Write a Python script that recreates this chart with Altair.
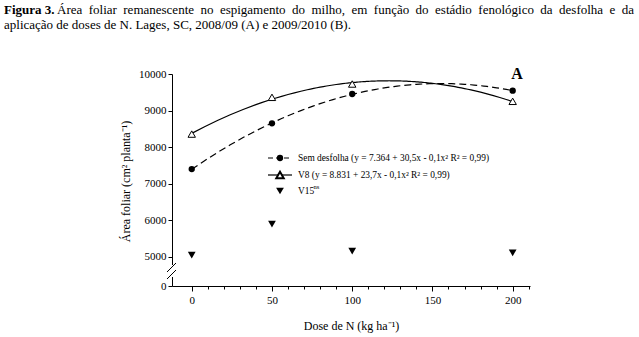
import altair as alt
import pandas as pd

# ---- data ----
doses = [0, 50, 100, 200]
sem_desfolha = [7397, 8649, 9452, 9543]
v8 = [8356, 9361, 9726, 9252]
v15 = [5041, 5890, 5151, 5104]

x_ticks = [0, 10, 20, 30, 40, 50, 60, 70, 80, 90, 100, 110, 120, 130, 140, 150,
           160, 170, 180, 190, 200, 210]
y_ticks = [0, 5000, 6000, 7000, 8000, 9000, 10000]

legend_labels = [
    "Sem desfolha (y = 7.364 + 30,5x - 0,1x²  R² = 0,99)",
    "V8 (y = 8.831 + 23,7x - 0,1x²  R² = 0,99)",
    "V15",
]
caption_bold = "Figura 3."
caption_l1 = "Área foliar remanescente no espigamento do milho, em função do estádio fenológico da desfolha e da"
caption_l2 = "aplicação de doses de N. Lages, SC, 2008/09 (A) e 2009/2010 (B)."

SERIF = "Liberation Serif"
W, H = 358, 212
OX, OY = 172, 74  # plot origin in page pixels

df = pd.DataFrame({
    "dose": doses * 3,
    "value": sem_desfolha + v8 + v15,
    "serie": ["Sem desfolha"] * 4 + ["V8"] * 4 + ["V15"] * 4,
})

xscale = alt.Scale(domain=[-12.3, 210.8], nice=False, zero=False)
yscale = alt.Scale(domain=[0, 5000, 10000], range=[H, 182.7, 0], nice=False, zero=False)

X = alt.X("dose:Q", scale=xscale, axis=alt.Axis(
    values=x_ticks, title="Dose de N (kg ha⁻¹)", grid=False,
    tickSize={"condition": {"test": "datum.value % 50 === 0", "value": 5}, "value": 3},
    labelExpr="datum.value % 50 === 0 ? datum.label : ''", labelOverlap=False,
    labelFont=SERIF, labelFontSize=11, labelColor="black", labelPadding=3,
    titleFont=SERIF, titleFontSize=12, titleFontWeight="normal", titleColor="black",
    titleY=39, titleBaseline="middle",
    domainColor="black", tickColor="black", labelFlush=False))
Y = alt.Y("value:Q", scale=yscale, axis=alt.Axis(
    values=y_ticks, title="Área foliar (cm² planta⁻¹)", grid=False, tickSize=4,
    format="d", labelOverlap=False,
    labelFont=SERIF, labelFontSize=11, labelColor="black", labelPadding=2,
    titleFont=SERIF, titleFontSize=12, titleFontWeight="normal", titleColor="black",
    titleX=-47, titleY=107, titleBaseline="middle",
    domainColor="black", tickColor="black", labelFlush=False))

base = alt.Chart(df)

fit_sem = base.transform_filter(alt.datum.serie == "Sem desfolha").transform_regression(
    "dose", "value", method="poly", order=2).mark_line(
    color="black", strokeWidth=1.2, strokeDash=[7, 4]).encode(x=X, y=Y)
fit_v8 = base.transform_filter(alt.datum.serie == "V8").transform_regression(
    "dose", "value", method="poly", order=2).mark_line(
    color="black", strokeWidth=1.2).encode(x=X, y=Y)

pts_sem = base.transform_filter(alt.datum.serie == "Sem desfolha").mark_point(
    shape="circle", filled=True, color="black", size=40, opacity=1).encode(x=X, y=Y)
pts_v8 = base.transform_filter(alt.datum.serie == "V8").mark_point(
    shape="triangle-up", filled=True, fill="white", stroke="black", strokeWidth=1, size=55, opacity=1).encode(
    x=X, y=Y)
pts_v15 = base.transform_filter(alt.datum.serie == "V15").mark_point(
    shape="triangle-down", filled=True, color="black", size=60, opacity=1).encode(x=X, y=Y)

one = pd.DataFrame({"k": [0]})
oc = alt.Chart(one)

# axis break
brk_white = oc.mark_rect(color="white").encode(
    x=alt.value(-2), x2=alt.value(2), y=alt.value(191), y2=alt.value(203))
brk1 = oc.mark_rule(color="black", strokeWidth=1).encode(
    x=alt.value(-5), x2=alt.value(4), y=alt.value(198), y2=alt.value(189))
brk2 = oc.mark_rule(color="black", strokeWidth=1).encode(
    x=alt.value(-5), x2=alt.value(4), y=alt.value(205), y2=alt.value(196))

# legend
ly = [84, 101, 117]
leg_line1 = oc.mark_rule(color="black", strokeWidth=1.2, strokeDash=[5, 3]).encode(
    x=alt.value(96), x2=alt.value(120), y=alt.value(ly[0]))
leg_line2 = oc.mark_rule(color="black", strokeWidth=1.2).encode(
    x=alt.value(96), x2=alt.value(120), y=alt.value(ly[1]))
leg_p1 = oc.mark_point(shape="circle", filled=True, color="black", size=40, opacity=1).encode(
    x=alt.value(108), y=alt.value(ly[0]))
leg_p2 = oc.mark_point(shape="triangle-up", filled=True, fill="white", stroke="black", size=55, opacity=1).encode(
    x=alt.value(108), y=alt.value(ly[1]))
leg_p3 = oc.mark_point(shape="triangle-down", filled=True, color="black", size=60, opacity=1).encode(
    x=alt.value(108), y=alt.value(ly[2]))
leg_texts = [
    oc.mark_text(font=SERIF, fontSize=9.4, align="left", baseline="middle", color="black").encode(
        x=alt.value(126), y=alt.value(ly[i]), text=alt.value(legend_labels[i]))
    for i in range(3)
]
leg_ns = oc.mark_text(font=SERIF, fontSize=6.5, align="left", baseline="middle", color="black").encode(
    x=alt.value(141.5), y=alt.value(ly[2] - 4), text=alt.value("ns"))

lab_A = oc.mark_text(font=SERIF, fontSize=16, fontWeight="bold", align="center", baseline="middle",
                     color="black").encode(x=alt.value(345), y=alt.value(0), text=alt.value("A"))

# caption: first line is justified in the reference -> place words individually
TIMES = {
    'a': 444, 'b': 500, 'c': 444, 'd': 500, 'e': 444, 'f': 333, 'g': 500, 'h': 500, 'i': 278,
    'j': 278, 'k': 500, 'l': 278, 'm': 778, 'n': 500, 'o': 500, 'p': 500, 'q': 500, 'r': 333,
    's': 389, 't': 278, 'u': 500, 'v': 500, 'w': 722, 'x': 500, 'y': 500, 'z': 444, ',': 250,
    '.': 250, 'Á': 722, 'ç': 444, 'ã': 444, 'á': 444, 'ó': 500, ' ': 250,
}
CFS = 13


def tw(s):
    return sum(TIMES.get(c, 500) for c in s) * CFS / 1000.0


words = caption_l1.split(" ")
start, end = 57, 634
total = sum(tw(w) for w in words)
gap = (end - start - total) / (len(words) - 1)
xs = []
cur = start
for w in words:
    xs.append(cur)
    cur += tw(w) + gap

cap_layers = [
    oc.mark_text(font=SERIF, fontSize=CFS, fontWeight="bold", align="left", baseline="middle",
                 color="black").encode(x=alt.value(4 - OX), y=alt.value(10 - OY), text=alt.value(caption_bold))
]
for w, xw in zip(words, xs):
    cap_layers.append(
        oc.mark_text(font=SERIF, fontSize=CFS, align="left", baseline="middle", color="black").encode(
            x=alt.value(xw - OX), y=alt.value(10 - OY), text=alt.value(w)))
cap_layers.append(
    oc.mark_text(font=SERIF, fontSize=CFS, align="left", baseline="middle", color="black").encode(
        x=alt.value(4 - OX), y=alt.value(25 - OY), text=alt.value(caption_l2)))

chart = alt.layer(
    fit_sem, fit_v8, pts_sem, pts_v8, pts_v15,
    brk_white, brk1, brk2,
    leg_line1, leg_line2, leg_p1, leg_p2, leg_p3, *leg_texts, leg_ns,
    lab_A, *cap_layers,
).properties(
    width=W, height=H,
    autosize=alt.AutoSizeParams(type="none"),
    padding={"left": OX, "top": OY, "right": 639 - OX - W, "bottom": 337 - OY - H},
    background="white",
).configure_view(stroke=None).configure_axis(
    domainWidth=1, tickWidth=1, labelOverlap=False, labelFont=SERIF, titleFont=SERIF
).configure_text(font=SERIF)

chart.save("out.html", embed_options={"renderer": "svg", "actions": False})
